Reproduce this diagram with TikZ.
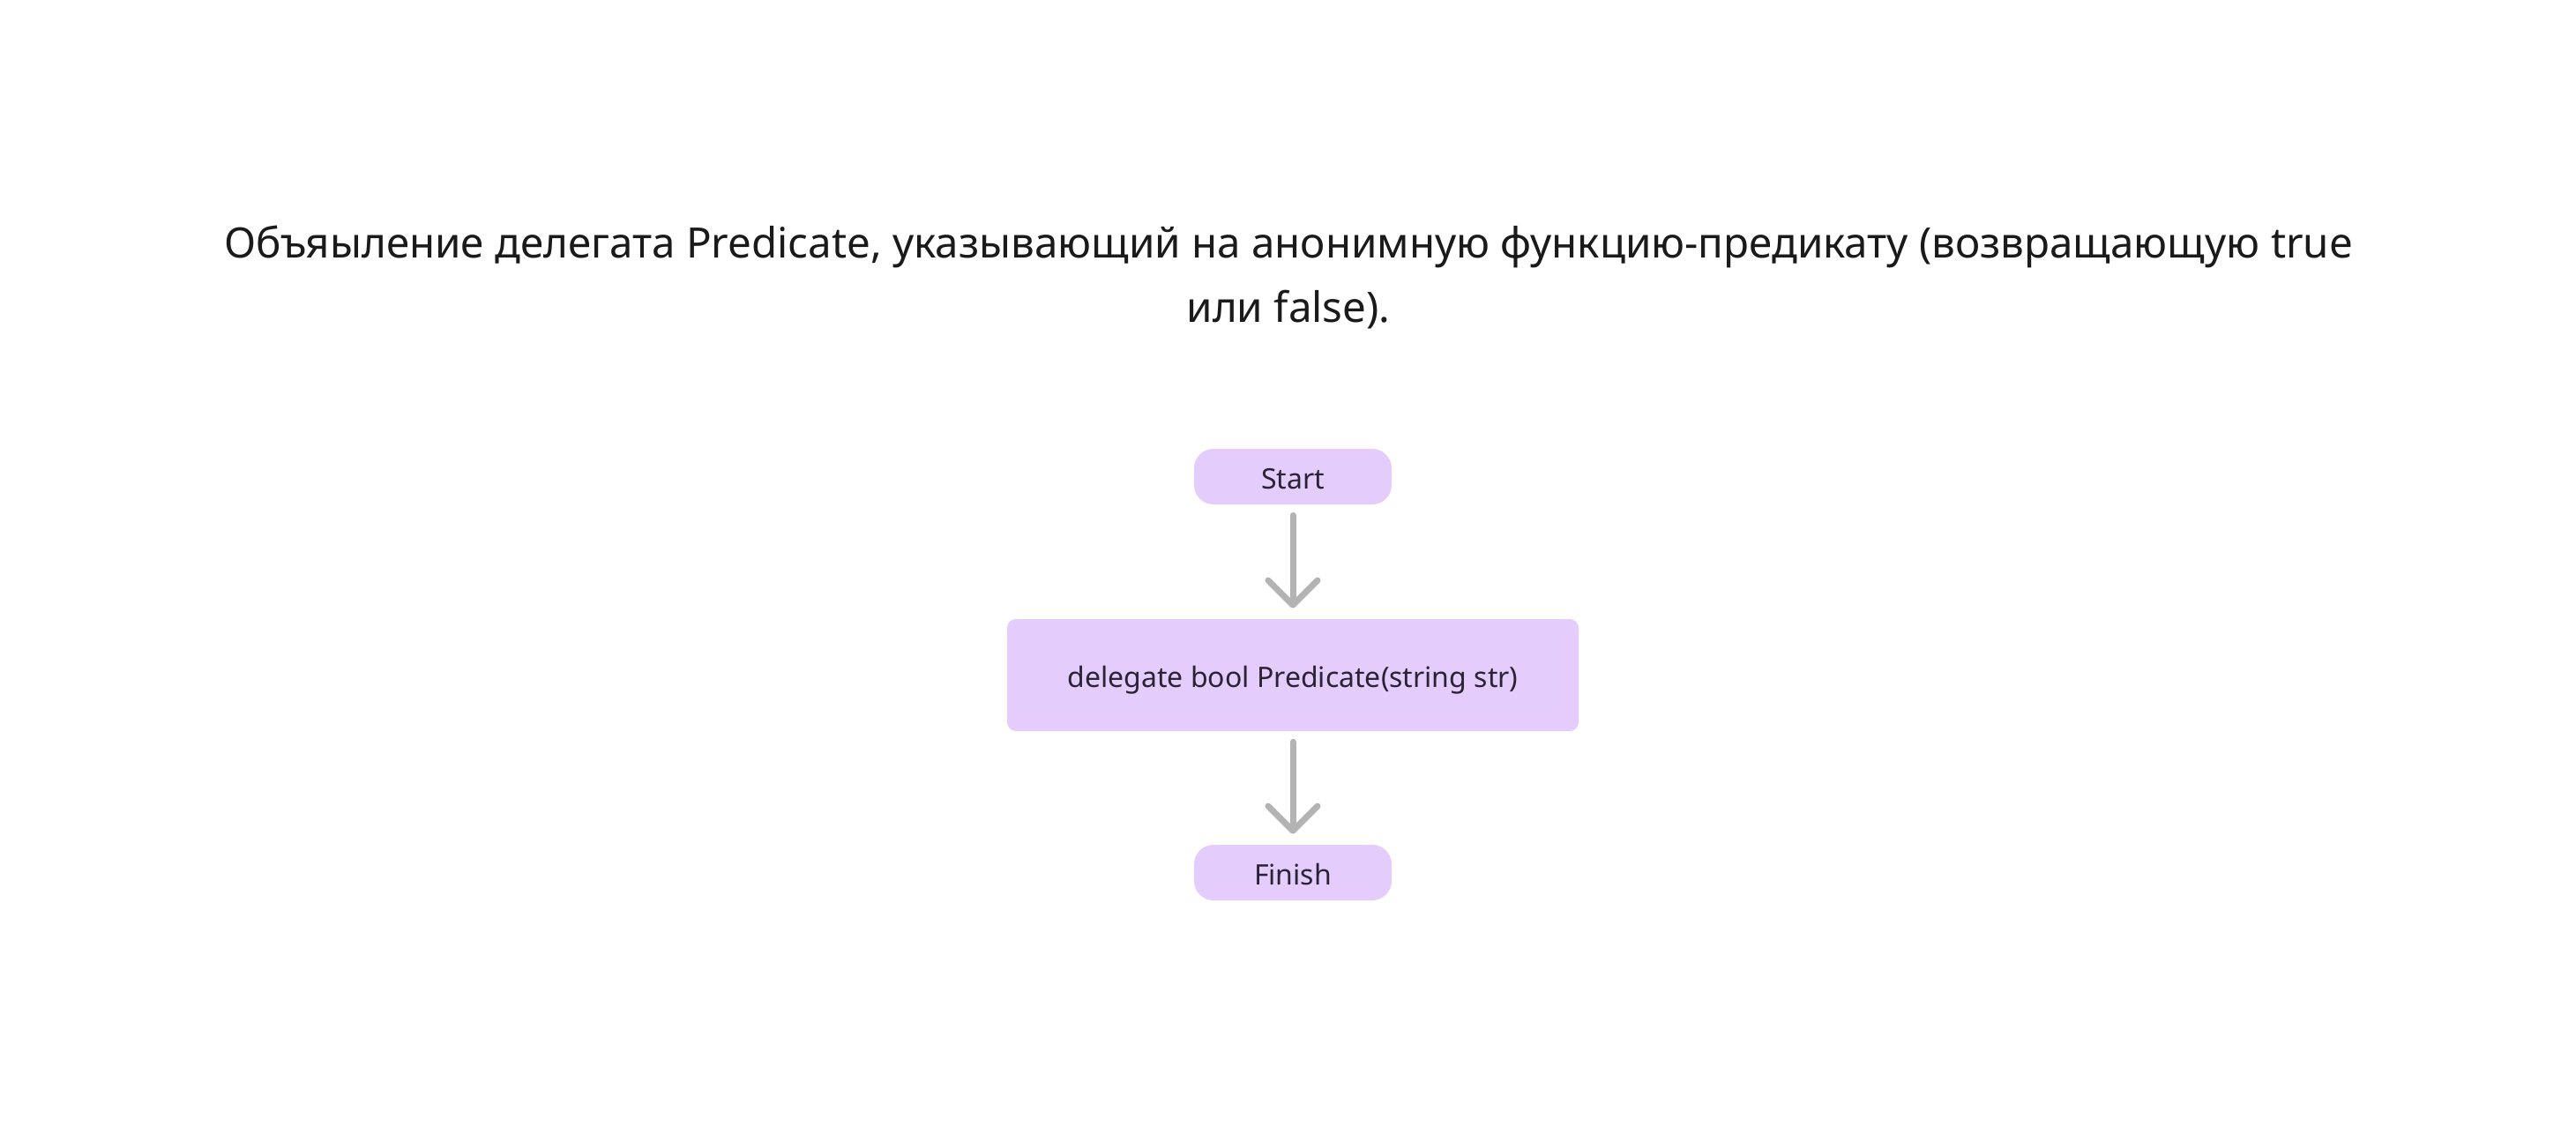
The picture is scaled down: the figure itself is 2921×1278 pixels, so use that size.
\documentclass[tikz,border=0pt]{standalone}
\usepackage{fontspec}
\setmainfont{Noto Sans}
\usetikzlibrary{arrows.meta}
\definecolor{boxfill}{HTML}{E4CCFD}
\definecolor{boxtext}{HTML}{2B2233}
\definecolor{titletext}{HTML}{1A1A1A}
\definecolor{conngray}{HTML}{B3B3B3}
\tikzset{
  boxbase/.style={fill=boxfill, inner sep=0pt, text=boxtext, text height=13.5pt, text depth=0pt, font=\fontsize{16}{19}\selectfont},
  termbox/.style={boxbase, rounded corners=11pt, minimum width=112pt, minimum height=31.5pt},
  procbox/.style={boxbase, rounded corners=5pt, minimum width=324pt, minimum height=63.5pt},
  conn/.style={draw=conngray, line width=3.5pt, line cap=round, shorten <=6pt, shorten >=6pt, -{Straight Barb[length=14pt, width=28pt, line cap=round, line join=round]}},
}
\begin{document}
\begin{tikzpicture}[x=0.5pt,y=-0.5pt]
\useasboundingbox[fill=white] (0,0) rectangle (2921,1278);
\node[text=titletext, align=center, font=\fontsize{23.75}{36.5}\selectfont] (title) at (1461,314)
  {Объяыление делегата Predicate, указывающий на анонимную функцию-предикату (возвращающую true\\или false).};
\node[termbox] (start) at (1466,540.5) {Start};
\node[procbox] (mid) at (1466,765.5) {delegate bool Predicate(string str)};
\node[termbox] (finish) at (1466,989.5) {Finish};
\draw[conn] (start) -- (mid);
\draw[conn] (mid) -- (finish);
\end{tikzpicture}
\end{document}
